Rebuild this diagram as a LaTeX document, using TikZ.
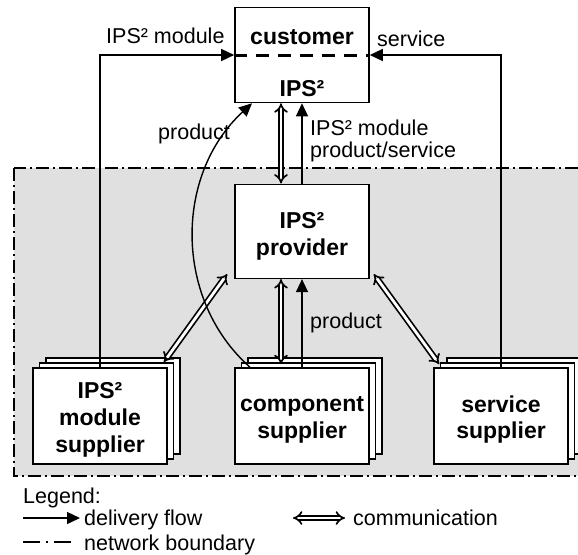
\documentclass[tikz,border=0pt]{standalone}
\usepackage{fontspec}
\setmainfont{Liberation Sans}
\usetikzlibrary{arrows.meta}
\begin{document}
\begin{tikzpicture}[x=1pt,y=-1pt,
  box/.style={draw,line width=1.6pt,fill=white,minimum width=134pt,minimum height=95pt,inner sep=0pt},
  layer/.style={draw,line width=1.4pt,fill=white,minimum width=134pt,minimum height=96pt,inner sep=0pt},
  bt/.style={font=\fontsize{23}{27}\selectfont\bfseries,anchor=base,inner sep=0pt},
  rt/.style={font=\fontsize{21.5}{24}\selectfont,anchor=base west,inner sep=0pt},
  flow/.style={line width=1.4pt,-{Triangle[length=13pt,width=12pt]}},
  comm/.style={double,double distance=2.8pt,line width=1.7pt,{Implies}-{Implies}},
  boundary/.style={line width=2pt,dash pattern=on 13pt off 4pt on 2pt off 4pt}]
\useasboundingbox (0,0) rectangle (578,554);
\fill[white] (0,0) rectangle (578,554);
\begin{scope}
  \clip (0,0) rectangle (578,554);
  \draw[boundary,fill=black!12] (13.5,168) rectangle (620,476);
\end{scope}

% customer
\node[box] (cust) at (302,55) {};
\draw[line width=3pt,dash pattern=on 13pt off 9pt] (cust.west) -- (cust.east);
\node[bt] (custtxt) at (302,44) {customer};
\node[bt] (custips) at (302,96) {IPS²};

% provider
\node[box,minimum height=94pt] (prov) at (302,231.3) {};
\node[bt] (provl1) at (302,228) {IPS²};
\node[bt] (provl2) at (302,255) {provider};

% module supplier
\node[layer] (mod3) at (113,406) {};
\node[layer] (mod2) at (106.5,411) {};
\node[box,minimum height=96pt] (mod) at (100,416) {};
\node[bt] (modl1) at (100,398) {IPS²};
\node[bt] (modl2) at (100,425) {module};
\node[bt] (modl3) at (100,452) {supplier};

% component supplier
\node[layer] (comp3) at (315,406) {};
\node[layer] (comp2) at (308.5,411) {};
\node[box,minimum height=96pt] (comp) at (302,416) {};
\node[bt] (compl1) at (302,411) {component};
\node[bt] (compl2) at (302,438) {supplier};

% service supplier
\node[layer] (serv3) at (514,406) {};
\node[layer] (serv2) at (507.5,411) {};
\node[box,minimum height=96pt] (serv) at (501,416) {};
\node[bt] (servl1) at (501,412) {service};
\node[bt] (servl2) at (501,438) {supplier};

% connectors
\draw[flow] (mod.north) |- (cust.west);
\draw[flow] (serv.north) |- (cust.east);
\draw[comm] ([xshift=-21pt]cust.south) -- ([xshift=-21pt]prov.north);
\draw[flow] (prov.north) -- (cust.south);
\draw[comm,shorten >=3pt] ([xshift=-21pt]prov.south) -- ([xshift=-21pt]comp.north);
\draw[flow] (comp.north) -- (prov.south);
\draw[comm] ([shift={(-7,-5)}]prov.south west) -- ([shift={(-4,-5)}]mod.north east);
\draw[comm] ([shift={(4,-5)}]prov.south east) -- ([shift={(6,-3)}]serv.north west);
\draw[flow] ([xshift=-52pt]comp.north) .. controls (174,300) and (174,175) .. ([xshift=-50pt]cust.south);

% labels
\node[rt] (lblmod) at (106,43) {IPS² module};
\node[rt] (lblserv) at (377,46.5) {service};
\node[rt] (lblprod1) at (158,139) {product};
\node[rt] (lblips) at (310,135) {IPS² module};
\node[rt] (lblps) at (310,157) {product/service};
\node[rt] (lblprod2) at (310,328) {product};

% legend
\node[rt] (leg) at (23,503) {Legend:};
\coordinate (l1a) at (23,518);
\coordinate (l1b) at (80,518);
\draw[flow] (l1a) -- (l1b);
\node[rt] (legflow) at (84,525) {delivery flow};
\coordinate (l2a) at (293,518);
\coordinate (l2b) at (345,518);
\draw[comm] (l2a) -- (l2b);
\node[rt] (legcomm) at (353,525) {communication};
\coordinate (l3a) at (23,542);
\coordinate (l3b) at (72,542);
\draw[line width=1.8pt,dash pattern=on 17pt off 6pt on 2pt off 6pt] (l3a) -- (l3b);
\node[rt] (legbound) at (84,550) {network boundary};
\end{tikzpicture}
\end{document}
